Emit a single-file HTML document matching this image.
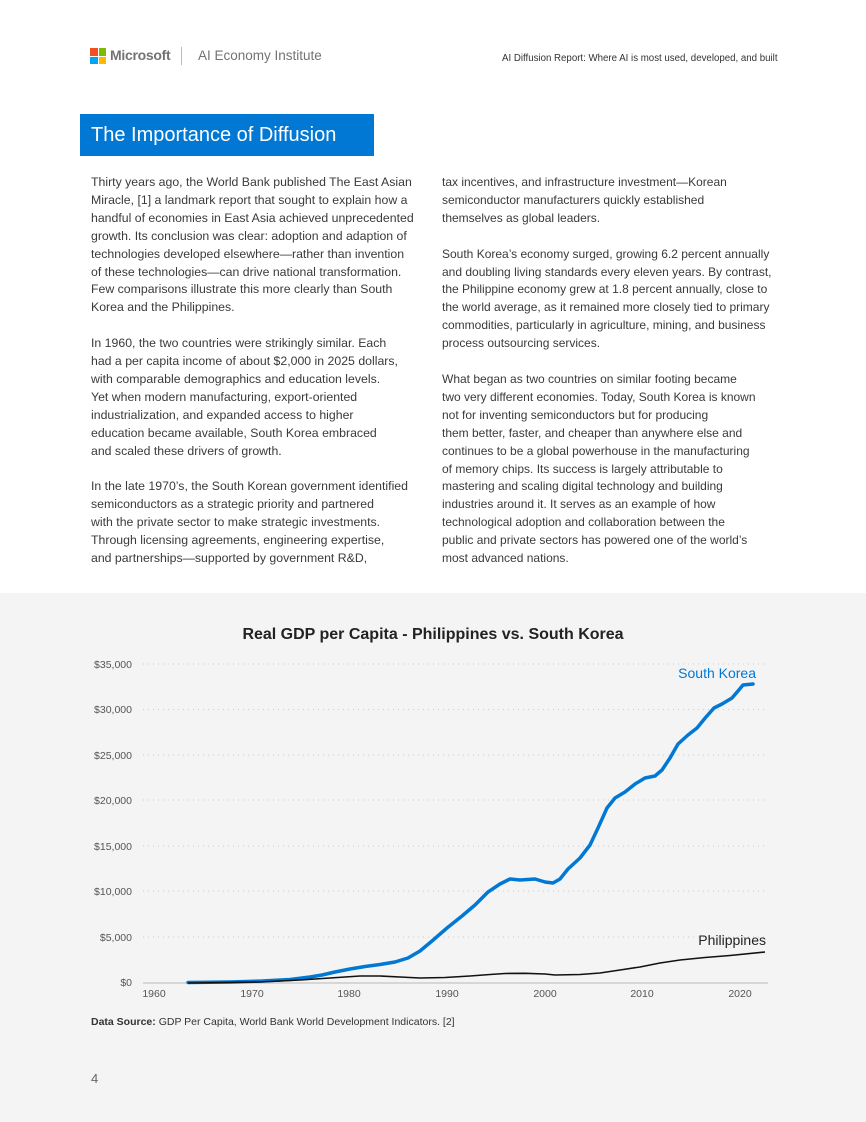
<!DOCTYPE html>
<html><head><meta charset="utf-8"><style>
*{margin:0;padding:0}
body{width:866px;height:1122px;background:#fff;position:relative;overflow:hidden;font-family:"Liberation Sans",sans-serif;color:#333}
.col{position:absolute;top:174px;font-size:12.3px;line-height:17.9px;color:#3a3a3a;white-space:nowrap}
.gray{position:absolute;left:0;top:593px;width:866px;height:529px;background:#f4f4f4}
</style></head><body>
<div style="position:absolute;left:90px;top:48px;width:16px;height:16px">
<div style="position:absolute;left:0;top:0;width:7.5px;height:7.5px;background:#f25022"></div>
<div style="position:absolute;left:8.5px;top:0;width:7.5px;height:7.5px;background:#7fba00"></div>
<div style="position:absolute;left:0;top:8.5px;width:7.5px;height:7.5px;background:#00a4ef"></div>
<div style="position:absolute;left:8.5px;top:8.5px;width:7.5px;height:7.5px;background:#ffb900"></div></div>
<div style="position:absolute;left:110px;top:47px;font-size:14px;font-weight:bold;color:#737373;letter-spacing:-0.3px">Microsoft</div>
<div style="position:absolute;left:181px;top:47px;width:1px;height:18px;background:#bbb"></div>
<div style="position:absolute;left:198px;top:48px;font-size:13.5px;color:#737373">AI Economy Institute</div>
<div style="position:absolute;left:502px;top:53px;font-size:9.7px;color:#333">AI Diffusion Report: Where AI is most used, developed, and built</div>
<div style="position:absolute;left:80px;top:114px;width:294px;height:42px;background:#0078d4"></div>
<div style="position:absolute;left:91px;top:124px;font-size:20px;color:#fff">The Importance of Diffusion</div>
<div class="col" style="left:91px">Thirty years ago, the World Bank published The East Asian<br>Miracle, [1] a landmark report that sought to explain how a<br>handful of economies in East Asia achieved unprecedented<br>growth. Its conclusion was clear: adoption and adaption of<br>technologies developed elsewhere—rather than invention<br>of these technologies—can drive national transformation.<br>Few comparisons illustrate this more clearly than South<br>Korea and the Philippines.<br><br>In 1960, the two countries were strikingly similar. Each<br>had a per capita income of about $2,000 in 2025 dollars,<br>with comparable demographics and education levels.<br>Yet when modern manufacturing, export-oriented<br>industrialization, and expanded access to higher<br>education became available, South Korea embraced<br>and scaled these drivers of growth.<br><br>In the late 1970’s, the South Korean government identified<br>semiconductors as a strategic priority and partnered<br>with the private sector to make strategic investments.<br>Through licensing agreements, engineering expertise,<br>and partnerships—supported by government R&amp;D,</div>
<div class="col" style="left:442px;font-size:12px">tax incentives, and infrastructure investment—Korean<br>semiconductor manufacturers quickly established<br>themselves as global leaders.<br><br>South Korea’s economy surged, growing 6.2 percent annually<br>and doubling living standards every eleven years. By contrast,<br>the Philippine economy grew at 1.8 percent annually, close to<br>the world average, as it remained more closely tied to primary<br>commodities, particularly in agriculture, mining, and business<br>process outsourcing services.<br><br>What began as two countries on similar footing became<br>two very different economies. Today, South Korea is known<br>not for inventing semiconductors but for producing<br>them better, faster, and cheaper than anywhere else and<br>continues to be a global powerhouse in the manufacturing<br>of memory chips. Its success is largely attributable to<br>mastering and scaling digital technology and building<br>industries around it. It serves as an example of how<br>technological adoption and collaboration between the<br>public and private sectors has powered one of the world’s<br>most advanced nations.</div>
<div class="gray"></div>
<svg style="position:absolute;left:0;top:0" width="866" height="1122" font-family="Liberation Sans, sans-serif">
<text x="433" y="639" text-anchor="middle" font-size="16" font-weight="600" fill="#222">Real GDP per Capita - Philippines vs. South Korea</text>
<g stroke="#ccc" stroke-dasharray="1 4" stroke-width="1">
<line x1="143" x2="768" y1="664" y2="664"/><line x1="143" x2="768" y1="709.5" y2="709.5"/><line x1="143" x2="768" y1="755" y2="755"/><line x1="143" x2="768" y1="800" y2="800"/><line x1="143" x2="768" y1="846" y2="846"/><line x1="143" x2="768" y1="891" y2="891"/><line x1="143" x2="768" y1="937" y2="937"/></g>
<line x1="143" x2="768" y1="983" y2="983" stroke="#d6d6d6" stroke-width="2"/>
<g font-size="10.5" fill="#555" text-anchor="end">
<text x="132" y="668">$35,000</text><text x="132" y="713">$30,000</text><text x="132" y="759">$25,000</text><text x="132" y="804">$20,000</text><text x="132" y="850">$15,000</text><text x="132" y="895">$10,000</text><text x="132" y="941">$5,000</text><text x="132" y="986">$0</text></g>
<g font-size="10.5" fill="#555" text-anchor="middle">
<text x="154" y="997">1960</text><text x="252" y="997">1970</text><text x="349" y="997">1980</text><text x="447" y="997">1990</text><text x="545" y="997">2000</text><text x="642" y="997">2010</text><text x="740" y="997">2020</text></g>
<path fill="none" stroke="#0078d4" stroke-width="3.5" stroke-linecap="round" stroke-linejoin="round" d="M188 982.5 L230 982 L262 981 L290 979.5 L310 977 L322 975 L335 972 L350 969 L365 966.5 L380 964.5 L395 962 L408 958 L420 951 L432 941 L447 928 L462 916 L475 905 L488 892 L500 884 L510 879 L520 880 L535 879 L545 882 L553 883 L560 879 L568 869 L580 858 L590 845 L598 828 L607 808 L615 798 L625 792 L635 784 L645 778 L655 776 L662 770 L670 758 L678 744 L688 735 L697 728 L706 717 L714 708 L722 704 L732 698 L738 691 L743 685 L753 684"/>
<path fill="none" stroke="#111" stroke-width="1.6" d="M188 983 L260 982 L300 980 L330 978 L360 976 L380 976 L400 977 L420 978 L445 977.5 L470 976 L490 974.5 L505 973.5 L525 973.3 L545 974 L555 975 L580 974.5 L600 973 L620 970 L640 967 L660 963 L680 960 L705 957.5 L730 955.5 L765 952"/>
<text x="756" y="678" text-anchor="end" font-size="14" fill="#0078d4">South Korea</text>
<text x="766" y="945" text-anchor="end" font-size="14" fill="#222">Philippines</text>
<text x="91" y="1025" font-size="10.5" fill="#333"><tspan font-weight="bold">Data Source:</tspan> GDP Per Capita, World Bank World Development Indicators. [2]</text>
<text x="91" y="1083" font-size="13" fill="#666">4</text>
</svg>
</body></html>
